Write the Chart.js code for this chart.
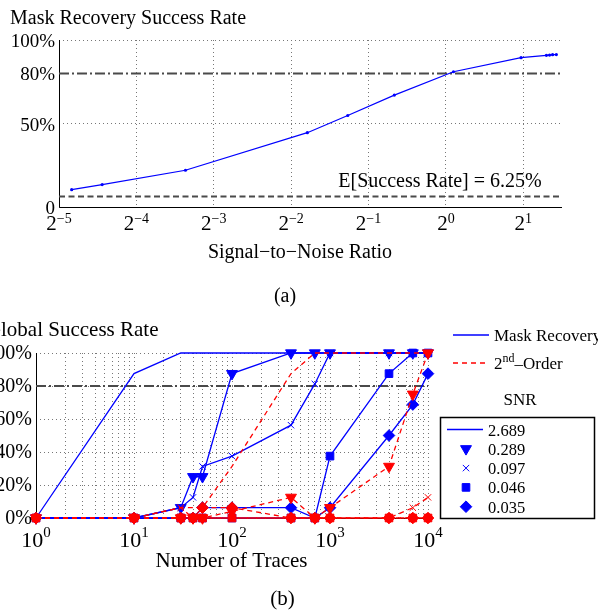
<!DOCTYPE html>
<html>
<head>
<meta charset="utf-8">
<script src="https://cdn.jsdelivr.net/npm/chart.js@4.4.1/dist/chart.umd.min.js"></script>
<style>
  html, body { margin: 0; padding: 0; background: #fff; overflow: hidden; }
  canvas { position: absolute; left: 0; }
  #snrChart { top: 0; }
  #tracesChart { top: 310px; }
</style>
</head>
<body>
<canvas id="snrChart" width="598" height="310"></canvas>
<canvas id="tracesChart" width="598" height="305"></canvas>
<script>
// (a) mask recovery success rate against signal-to-noise ratio
const snrValues = [0.035, 0.046, 0.097, 0.289, 0.415, 0.63, 1.07, 1.96, 2.46, 2.53, 2.60, 2.689];
const maskSuccess = [10.4, 13.4, 22.0, 44.5, 54.8, 67.0, 81.0, 89.4, 90.8, 91.0, 91.2, 91.3];
const snrExponents = [-5, -4, -3, -2, -1, 0, 1];
const topYTicks = [0, 50, 80, 100];
const topYLabels = ['0', '50%', '80%', '100%'];
const threshold = 80;
const expectedRate = 6.25;

// (b) global success rate against number of traces
const traces = [1, 10, 30, 40, 50, 100, 400, 700, 1000, 4000, 7000, 10000];
const snrLegend = ['2.689', '0.289', '0.097', '0.046', '0.035'];
const maskRecovery = [
    [0, 87.5, 100, 100, 100, 100, 100, 100, 100, 100, 100, 100],
    [0, 0, 6.25, 25, 25, 87.5, 100, 100, 100, 100, 100, 100],
    [0, 0, 6.25, 12.5, 31.25, 37.5, 56.25, 81.25, 100, 100, 100, 100],
    [0, 0, 0, 0, 0, 0, 0, 0, 37.5, 87.5, 100, 100],
    [0, 0, 0, 0, 6.25, 6.25, 6.25, 0, 6.25, 50, 68.75, 87.5],
];
const secondOrder = [
    [0, 0, 6.25, 6.25, 6.25, 31.25, 87.5, 100, 100, 100, 100, 100],
    [0, 0, 0, 0, 0, 4, 12.5, 0, 6.25, 31.25, 75, 100],
    [0, 0, 6.25, 0, 0, 0, 0, 0, 0, 0, 6.25, 12.5],
    [0, 0, 0, 0, 0, 0, 0, 0, 0, 0, 0, 0],
    [0, 0, 0, 0, 6.25, 6.25, 0, 0, 0, 0, 0, 0],
];
const bottomYTicks = [0, 20, 40, 60, 80, 100];
const traceExponents = [0, 1, 2, 3, 4];

const SERIF = '"Liberation Serif", "DejaVu Serif", serif';
const BLUE = '#0000ff';
const RED = '#ff0000';
const GRID = '#777777';
const REF = '#4a4a4a';

const markerStyles = ['circle', 'triangle', 'crossRot', 'rect', 'rectRot'];
const markerRadius = [0, 6.3, 4.5, 5.4, 5.8];
const markerRotation = [0, 180, 0, 0, 0];

function font(size) {
    return size + 'px ' + SERIF;
}

function text(ctx, s, x, y, size, align) {
    ctx.font = font(size);
    ctx.textAlign = align || 'left';
    ctx.textBaseline = 'alphabetic';
    ctx.fillStyle = '#000';
    ctx.fillText(s, x, y);
}

// base with a raised exponent, centred as a whole on cx
function powerLabel(ctx, base, exp, cx, baseline, size, expSize, rise) {
    ctx.font = font(size);
    const wb = ctx.measureText(base).width;
    ctx.font = font(expSize);
    const we = ctx.measureText(exp).width;
    const x0 = cx - (wb + we) / 2;
    text(ctx, base, x0, baseline, size);
    text(ctx, exp, x0 + wb, baseline - rise, expSize);
}

function axisLines(chart) {
    const {ctx, chartArea: a} = chart;
    ctx.save();
    ctx.strokeStyle = '#000';
    ctx.lineWidth = 1;
    ctx.beginPath();
    ctx.moveTo(a.left + 0.5, a.top);
    ctx.lineTo(a.left + 0.5, a.bottom + 0.5);
    ctx.lineTo(a.right, a.bottom + 0.5);
    ctx.stroke();
    ctx.restore();
}

function marker(ctx, k, color, x, y) {
    if (!markerRadius[k]) return;
    ctx.save();
    ctx.fillStyle = color;
    ctx.strokeStyle = color;
    ctx.lineWidth = 1;
    Chart.helpers.drawPoint(ctx, {
        pointStyle: markerStyles[k],
        radius: markerRadius[k],
        rotation: markerRotation[k],
        borderWidth: 1
    }, x, y);
    ctx.restore();
}

const noSize = {
    x: scale => { scale.height = 0; },
    y: scale => { scale.width = 0; }
};

function flatLine(value, xmin, xmax, dash) {
    return {
        data: [{x: xmin, y: value}, {x: xmax, y: value}],
        borderColor: REF,
        borderWidth: 2,
        borderDash: dash,
        pointRadius: 0,
        clip: false,
        order: 5
    };
}

// ---------- chart (a) ----------
const snrMin = Math.pow(2, -5);
const snrMax = Math.pow(2, 1.5);

new Chart(document.getElementById('snrChart').getContext('2d'), {
    type: 'line',
    data: {
        datasets: [
            {
                data: snrValues.map((s, i) => ({x: s, y: maskSuccess[i]})),
                borderColor: BLUE,
                backgroundColor: BLUE,
                borderWidth: 1.2,
                pointRadius: 1.6,
                pointBorderWidth: 0,
                clip: false,
                order: 0
            },
            flatLine(threshold, snrMin, snrMax, [10, 3, 2, 3]),
            flatLine(expectedRate, snrMin, snrMax, [6, 3.5]),
        ]
    },
    options: {
        responsive: false,
        animation: false,
        layout: {autoPadding: false, padding: {left: 59, right: 36, top: 40, bottom: 103}},
        plugins: {legend: {display: false}, tooltip: {enabled: false}},
        scales: {
            x: {
                type: 'logarithmic',
                min: snrMin,
                max: snrMax,
                afterBuildTicks: scale => {
                    scale.ticks = snrExponents.map(e => ({value: Math.pow(2, e)}));
                },
                afterFit: noSize.x,
                ticks: {display: false},
                grid: {color: GRID, lineWidth: 1, drawTicks: false},
                border: {display: false, dash: [1, 3]}
            },
            y: {
                type: 'linear',
                min: 0,
                max: 100,
                afterBuildTicks: scale => {
                    scale.ticks = [0, 50, 100].map(v => ({value: v}));
                },
                afterFit: noSize.y,
                ticks: {display: false},
                grid: {color: GRID, lineWidth: 1, drawTicks: false},
                border: {display: false, dash: [1, 3]}
            }
        }
    },
    plugins: [{
        id: 'snrDecor',
        beforeDatasetsDraw: axisLines,
        afterDraw(chart) {
            const {ctx, scales: {x, y}} = chart;
            ctx.save();
            text(ctx, 'Mask Recovery Success Rate', 10, 24, 20);
            topYTicks.forEach((v, i) => {
                text(ctx, topYLabels[i], 55, y.getPixelForValue(v) + 7, 19, 'right');
            });
            snrExponents.forEach(e => {
                const label = e < 0 ? '\u2212' + (-e) : String(e);
                powerLabel(ctx, '2', label, x.getPixelForValue(Math.pow(2, e)), 230, 21, 14, 7);
            });
            text(ctx, 'E[Success Rate] = 6.25%', 440, 187, 20, 'center');
            text(ctx, 'Signal\u2212to\u2212Noise Ratio', 300, 258, 20, 'center');
            text(ctx, '(a)', 285, 302, 20, 'center');
            ctx.restore();
        }
    }]
});

// ---------- chart (b) ----------
function tracePoints(values) {
    return traces.map((t, i) => ({x: t, y: values[i]}));
}

function traceDataset(values, k, color, dash, order) {
    return {
        data: tracePoints(values),
        borderColor: color,
        backgroundColor: color,
        borderWidth: 1.3,
        borderDash: dash,
        pointStyle: markerStyles[k],
        pointRadius: markerRadius[k],
        pointRotation: markerRotation[k],
        pointBorderWidth: 1,
        pointBackgroundColor: color,
        pointBorderColor: color,
        clip: false,
        order: order
    };
}

const tracesDatasets = [];
secondOrder.forEach((vals, k) => tracesDatasets.push(traceDataset(vals, k, RED, [5, 4], 0)));
maskRecovery.forEach((vals, k) => tracesDatasets.push(traceDataset(vals, k, BLUE, [], 1)));
tracesDatasets.push(flatLine(threshold, traces[0], traces[traces.length - 1], [10, 3, 2, 3]));

const traceGridTicks = [];
for (let e = 0; e < 4; e++) {
    for (let m = 1; m < 10; m++) traceGridTicks.push(m * Math.pow(10, e));
}
traceGridTicks.push(10000);

new Chart(document.getElementById('tracesChart').getContext('2d'), {
    type: 'line',
    data: {datasets: tracesDatasets},
    options: {
        responsive: false,
        animation: false,
        layout: {autoPadding: false, padding: {left: 36, right: 170, top: 43, bottom: 97}},
        plugins: {legend: {display: false}, tooltip: {enabled: false}},
        scales: {
            x: {
                type: 'logarithmic',
                min: 1,
                max: 10000,
                afterBuildTicks: scale => {
                    scale.ticks = traceGridTicks.map(v => ({value: v}));
                },
                afterFit: noSize.x,
                ticks: {display: false},
                grid: {color: GRID, lineWidth: 1, drawTicks: false},
                border: {display: false, dash: [1, 3]}
            },
            y: {
                type: 'linear',
                min: 0,
                max: 100,
                afterBuildTicks: scale => {
                    scale.ticks = bottomYTicks.map(v => ({value: v}));
                },
                afterFit: noSize.y,
                ticks: {display: false},
                grid: {color: GRID, lineWidth: 1, drawTicks: false},
                border: {display: false, dash: [1, 3]}
            }
        }
    },
    plugins: [{
        id: 'tracesDecor',
        beforeDatasetsDraw: axisLines,
        afterDraw(chart) {
            const {ctx, scales: {x, y}} = chart;
            ctx.save();
            ctx.font = font(21);
            text(ctx, 'Global Success Rate', 1 - ctx.measureText('G').width, 26, 21);
            bottomYTicks.forEach(v => {
                text(ctx, v + '%', 32, y.getPixelForValue(v) + 6, 20, 'right');
            });
            traceExponents.forEach(e => {
                powerLabel(ctx, '10', String(e), x.getPixelForValue(Math.pow(10, e)), 236.5, 22, 15, 10);
            });
            text(ctx, 'Number of Traces', 231.5, 256.5, 21, 'center');
            text(ctx, '(b)', 282.5, 295, 21, 'center');

            // method legend
            ctx.lineWidth = 1.3;
            ctx.strokeStyle = BLUE;
            ctx.beginPath(); ctx.moveTo(453, 25); ctx.lineTo(489, 25); ctx.stroke();
            ctx.strokeStyle = RED;
            ctx.setLineDash([5, 4]);
            ctx.beginPath(); ctx.moveTo(453, 53); ctx.lineTo(489, 53); ctx.stroke();
            ctx.setLineDash([]);
            text(ctx, 'Mask Recovery', 494, 31, 17);
            text(ctx, '2', 494, 59, 17);
            ctx.font = font(17);
            const w2 = ctx.measureText('2').width;
            ctx.font = font(12);
            const wnd = ctx.measureText('nd').width;
            text(ctx, 'nd', 494 + w2, 52, 12);
            text(ctx, '\u2013Order', 494 + w2 + wnd, 59, 17);
            text(ctx, 'SNR', 520, 95, 17, 'center');

            // SNR legend box
            ctx.strokeStyle = '#000';
            ctx.lineWidth = 1.5;
            ctx.strokeRect(440.5, 107.5, 154, 101);
            snrLegend.forEach((s, k) => {
                const cy = 119.5 + k * 19.3;
                if (k === 0) {
                    ctx.strokeStyle = BLUE;
                    ctx.lineWidth = 1.3;
                    ctx.beginPath(); ctx.moveTo(447, cy); ctx.lineTo(483, cy); ctx.stroke();
                } else {
                    marker(ctx, k, BLUE, 466, cy);
                }
                text(ctx, s, 488, cy + 6, 16.5);
            });
            ctx.restore();
        }
    }]
});
</script>
</body>
</html>
